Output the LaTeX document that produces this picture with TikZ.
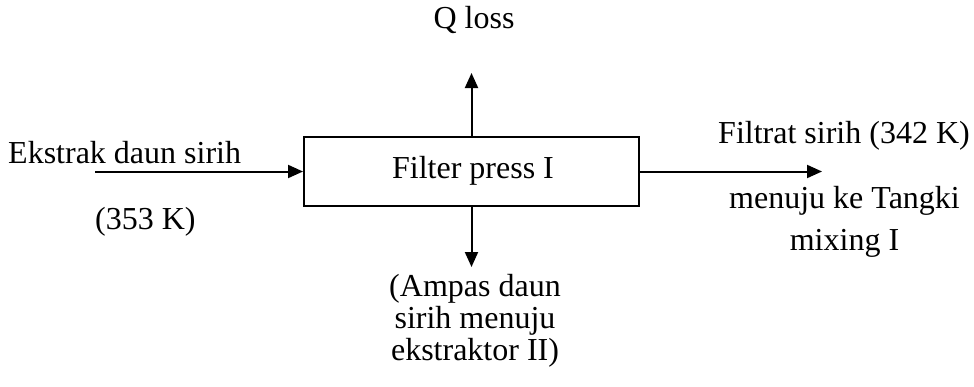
\documentclass[tikz,border=0pt]{standalone}
\usepackage{fontspec}
\setmainfont{Liberation Serif}
\usetikzlibrary{arrows.meta}
\begin{document}
\begin{tikzpicture}[x=1pt,y=-1pt,
  lbl/.style={inner sep=0pt,font=\fontsize{32}{32}\selectfont},
  flow/.style={line width=2pt,-{Triangle[length=15pt,width=13pt]}},
  unit/.style={draw,line width=2pt,minimum width=335pt,minimum height=69pt,inner sep=0pt,font=\fontsize{32}{32}\selectfont}]
\useasboundingbox (0,0) rectangle (974,386);
\node[unit] (box) at (471.5,171.5) {};
\node[lbl,anchor=base] (boxt) at (473,178) {Filter press I};
\coordinate (qtip) at (471.5,73);
\coordinate (atip) at (471.5,267);
\coordinate (instart) at (95,171.5);
\coordinate (outtip) at (822,171.5);
\draw[flow] (box.north) -- (qtip);
\draw[flow] (box.south) -- (atip);
\draw[flow] (instart) -- (box.west);
\draw[flow] (box.east) -- (outtip);
\node[lbl,anchor=base] (q) at (474,28) {Q loss};
\node[lbl,anchor=base west] (in1) at (8,163) {Ekstrak daun sirih};
\node[lbl,anchor=base west] (in2) at (95,229) {(353 K)};
\node[lbl,anchor=base west] (out1) at (718,143) {Filtrat sirih (342 K)};
\node[lbl,anchor=base] (out2) at (844.5,208) {menuju ke Tangki};
\node[lbl,anchor=base] (out3) at (844.5,250) {mixing I};
\node[lbl,anchor=base] (amp1) at (475,296) {(Ampas daun};
\node[lbl,anchor=base] (amp2) at (475,328) {sirih menuju};
\node[lbl,anchor=base] (amp3) at (475,360) {ekstraktor II)};
\end{tikzpicture}
\end{document}
